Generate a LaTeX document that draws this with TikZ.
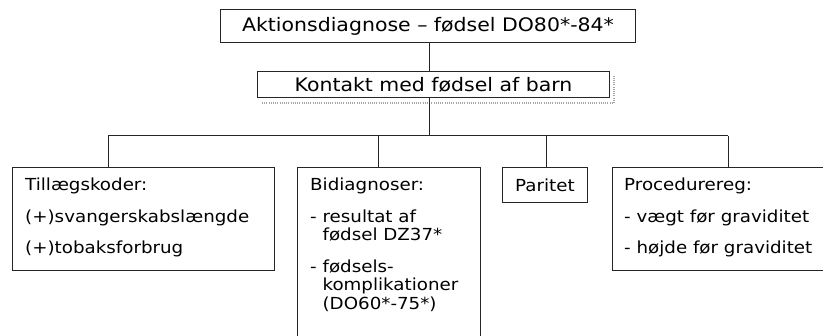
\documentclass[tikz,border=0pt]{standalone}
\usepackage{fontspec}
\setmainfont{DejaVu Sans}[FakeStretch=1.1]
\begin{document}
\begin{tikzpicture}[x=1pt,y=-1pt,
  box/.style={draw=black!85,line width=1pt,inner sep=0pt,anchor=north west},
  lowfont/.style={font=\fontsize{16.6}{18.5}\selectfont},
  topfont/.style={font=\fontsize{18.6}{20}\selectfont},
  txt/.style={lowfont,inner sep=0pt,anchor=north west,align=left},
  conn/.style={line width=1pt,black!85},
  shadowline/.style={draw=gray!70,line width=1.6pt,dash pattern=on 1pt off 1.2pt}]
\clip (0,0) rectangle (823,336);
\fill[white] (0,0) rectangle (823,336);
% top boxes
\node[box,topfont,minimum width=415pt,minimum height=33pt] (top) at (220,9) {Aktionsdiagnose – fødsel DO80*-84*};
\node[box,topfont,minimum width=352pt,minimum height=26pt] (k) at (257,71) {Kontakt med fødsel af barn};
\draw[shadowline] ([xshift=5pt,yshift=-5pt]k.south west) -| ([xshift=4pt,yshift=-4pt]k.north east);
% lower boxes
\node[box,minimum width=262pt,minimum height=103pt] (b1) at (12,167) {};
\node[box,minimum width=183pt,minimum height=190pt] (b2) at (297,167) {};
\node[box,lowfont,minimum width=85pt,minimum height=35pt] (b3) at (502,167) {Paritet};
\node[box,minimum width=230pt,minimum height=103pt] (b4) at (612,167) {};
\node[txt] (b1t) at ([xshift=13pt,yshift=-11pt]b1.north west)
  {Tillægskoder:\\[13pt](+)svangerskabslængde\\[13pt](+)tobaksforbrug};
\node[txt] (b2t) at ([xshift=13pt,yshift=-11pt]b2.north west)
  {Bidiagnoser:\\[13pt]- resultat af\\\phantom{- }fødsel DZ37*\\[13pt]- fødsels-\\\phantom{- }komplikationer\\\phantom{- }(DO60*-75*)};
\node[txt] (b4t) at ([xshift=12pt,yshift=-11pt]b4.north west)
  {Procedurereg:\\[13pt]- vægt før graviditet\\[13pt]- højde før graviditet};
% connectors
\coordinate (hub) at (429,136);
\coordinate (d1) at (108,136);
\coordinate (d2) at (378,136);
\coordinate (d3) at (546,136);
\coordinate (d4) at (728,136);
\draw[conn] (top.south -| hub) -- (k.north -| hub);
\draw[conn] (k.south -| hub) -- (hub);
\draw[conn] (d1) -- (d4);
\draw[conn] (d1) -- (d1 |- b1.north);
\draw[conn] (d2) -- (d2 |- b2.north);
\draw[conn] (d3) -- (d3 |- b3.north);
\draw[conn] (d4) -- (d4 |- b4.north);
\end{tikzpicture}
\end{document}
